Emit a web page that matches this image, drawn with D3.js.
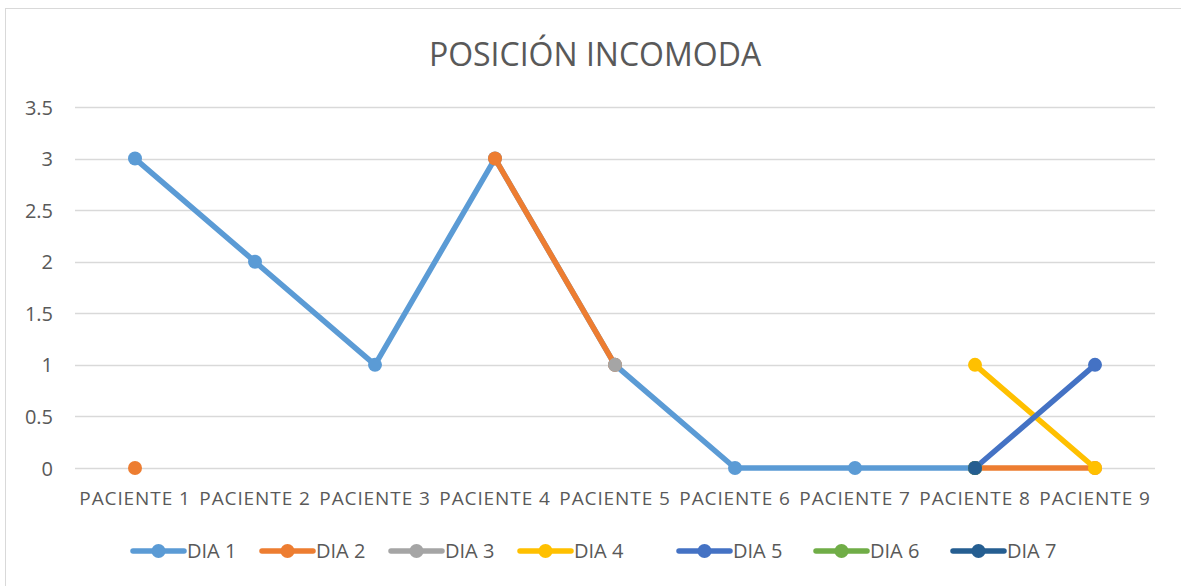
<!DOCTYPE html>
<html>
<head>
<meta charset="utf-8">
<script src="https://cdn.jsdelivr.net/npm/d3@7"></script>
<style>
  body { margin: 0; background: #fff; }
  text { font-family: "Open Sans", sans-serif; fill: #595959; }
</style>
</head>
<body>
<svg id="chart" width="1181" height="586"></svg>
<script>
// Data
const categories = ['PACIENTE 1', 'PACIENTE 2', 'PACIENTE 3', 'PACIENTE 4', 'PACIENTE 5',
    'PACIENTE 6', 'PACIENTE 7', 'PACIENTE 8', 'PACIENTE 9'];
const seriesNames = ['DIA 1', 'DIA 2', 'DIA 3', 'DIA 4', 'DIA 5', 'DIA 6', 'DIA 7'];
const dia1 = [3, 2, 1, 3, 1, 0, 0, 0, null];
const dia2 = [0, null, null, 3, 1, null, null, 0, 0];
const dia3 = [null, null, null, null, 1, null, null, null, null];
const dia4 = [null, null, null, null, null, null, null, 1, 0];
const dia5 = [null, null, null, null, null, null, null, 0, 1];
const dia6 = [null, null, null, null, null, null, null, 0, null];
const dia7 = [null, null, null, null, null, null, null, 0, null];
const yTicks = [0, 0.5, 1, 1.5, 2, 2.5, 3, 3.5];
const colors = ['#5B9BD5', '#ED7D31', '#A5A5A5', '#FFC000', '#4472C4', '#70AD47', '#255E91'];

const series = [dia1, dia2, dia3, dia4, dia5, dia6, dia7].map((values, i) => ({
    name: seriesNames[i], color: colors[i], values: values
}));

/**
 * Layout.
 */
const plotLeft = 75, plotRight = 1155;
const svg = d3.select('#chart');
const W = +svg.attr('width'), H = +svg.attr('height');

// Chart frame
svg.append('rect')
    .attr('x', 5.5).attr('y', 8.5)
    .attr('width', W).attr('height', H)
    .attr('fill', 'none').attr('stroke', '#d9d9d9');

const x = d3.scaleBand().domain(categories).range([plotLeft, plotRight]);
const y = d3.scaleLinear().domain([0, 3.5]).range([468, 107]);

// Title
svg.append('text')
    .attr('x', 595).attr('y', 66)
    .attr('text-anchor', 'middle')
    .style('font-size', '32px')
    .text('POSICIÓN INCOMODA');

// Gridlines
svg.append('g').selectAll('line').data(yTicks).join('line')
    .attr('x1', plotLeft).attr('x2', plotRight)
    .attr('y1', d => Math.round(y(d)) + 0.5).attr('y2', d => Math.round(y(d)) + 0.5)
    .attr('stroke', '#d9d9d9').attr('stroke-width', 1.3);

// Y axis
const yAxis = svg.append('g')
    .attr('transform', 'translate(53,0)')
    .call(d3.axisLeft(y).tickValues(yTicks).tickSize(0).tickPadding(0).tickFormat(d3.format('')));
yAxis.select('.domain').remove();
yAxis.selectAll('text').style('font-size', '20px').attr('fill', '#595959').attr('dy', '0.35em');

// X axis
const xAxis = svg.append('g')
    .attr('transform', 'translate(0,505)')
    .call(d3.axisBottom(x).tickSize(0).tickPadding(0));
xAxis.select('.domain').remove();
xAxis.selectAll('text').style('font-size', '19px').attr('fill', '#595959')
    .attr('dy', 0).attr('y', 0).style('letter-spacing', '0.9px');

// Lines
const cx = i => x(categories[i]) + x.bandwidth() / 2;
const line = d3.line()
    .defined(d => d != null)
    .x((d, i) => cx(i))
    .y(d => y(d));

const groups = svg.append('g').selectAll('g').data(series).join('g');
groups.append('path')
    .attr('d', d => line(d.values))
    .attr('fill', 'none')
    .attr('stroke', d => d.color)
    .attr('stroke-width', 5.5)
    .attr('stroke-linecap', 'round')
    .attr('stroke-linejoin', 'round');
groups.selectAll('circle')
    .data(d => d.values.map((v, i) => ({ v: v, i: i, color: d.color })).filter(p => p.v != null))
    .join('circle')
    .attr('cx', p => cx(p.i)).attr('cy', p => y(p.v))
    .attr('r', 7)
    .attr('fill', p => p.color);

// Legend
const legendX = [133, 262, 391, 520, 679, 816, 953];
const legend = svg.append('g').selectAll('g').data(series).join('g')
    .attr('transform', (d, i) => 'translate(' + legendX[i] + ',551)');
legend.append('line')
    .attr('x1', 0).attr('x2', 51)
    .attr('stroke', d => d.color).attr('stroke-width', 5.5).attr('stroke-linecap', 'round');
legend.append('circle')
    .attr('cx', 25.5).attr('r', 7).attr('fill', d => d.color);
legend.append('text')
    .attr('x', 54).attr('dy', '0.36em')
    .style('font-size', '20px')
    .text(d => d.name);
</script>
</body>
</html>
